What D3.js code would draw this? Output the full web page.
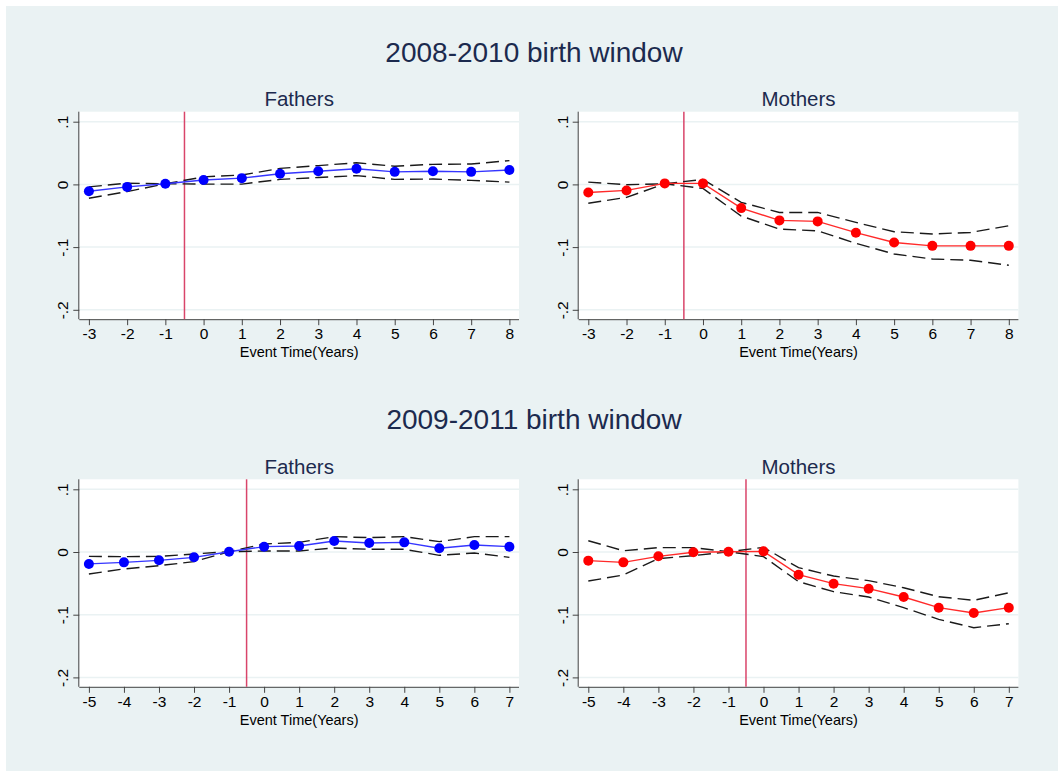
<!DOCTYPE html>
<html>
<head>
<meta charset="utf-8">
<script src="https://cdnjs.cloudflare.com/ajax/libs/d3/7.8.5/d3.min.js"></script>
<style>
	body { margin: 0; background: #ffffff; }
	text { font-family: "Liberation Sans", Arial, Helvetica, sans-serif; }
</style>
</head>
<body>
<div id="EventChart"></div>
<script>
// event time, 2008-2010 window
var yearsA = [-3, -2, -1, 0, 1, 2, 3, 4, 5, 6, 7, 8];
var fathersA    = [-0.011, -0.004, 0.001, 0.007, 0.010, 0.017, 0.021, 0.025, 0.020, 0.021, 0.020, 0.023];
var fathersA_hi = [-0.004, 0.002, 0.001, 0.012, 0.015, 0.0255, 0.030, 0.0345, 0.029, 0.032, 0.0325, 0.038];
var fathersA_lo = [-0.022, -0.0115, 0.001, 0.0005, 0.0005, 0.008, 0.011, 0.014, 0.008, 0.0085, 0.0064, 0.0037];
var mothersA    = [-0.013, -0.0096, 0.0016, 0.0016, -0.0378, -0.0574, -0.059, -0.077, -0.0926, -0.098, -0.098, -0.098];
var mothersA_hi = [0.0037, -0.0005, 0.001, 0.008, -0.0287, -0.0447, -0.0447, -0.0606, -0.0755, -0.079, -0.0766, -0.066];
var mothersA_lo = [-0.030, -0.0207, 0.001, -0.0064, -0.0505, -0.0713, -0.074, -0.094, -0.111, -0.119, -0.121, -0.129];

// event time, 2009-2011 window
var yearsB = [-5, -4, -3, -2, -1, 0, 1, 2, 3, 4, 5, 6, 7];
var fathersB    = [-0.019, -0.0165, -0.0133, -0.0085, 0.0005, 0.0085, 0.0096, 0.0176, 0.0144, 0.0154, 0.0059, 0.0112, 0.0085];
var fathersB_hi = [-0.0069, -0.0074, -0.0069, -0.0032, 0.0005, 0.0128, 0.0154, 0.0245, 0.0229, 0.0245, 0.0165, 0.0245, 0.0245];
var fathersB_lo = [-0.035, -0.027, -0.0218, -0.0154, 0.0005, 0.0016, 0.0016, 0.0064, 0.0043, 0.0043, -0.0053, -0.0016, -0.0085];
var mothersB    = [-0.0138, -0.0165, -0.0069, -0.0005, 0.0005, 0.001, -0.0362, -0.0505, -0.0585, -0.0718, -0.0888, -0.0973, -0.0888];
var mothersB_hi = [0.018, 0.002, 0.0069, 0.0069, 0.0005, 0.0074, -0.025, -0.0383, -0.0457, -0.057, -0.0713, -0.077, -0.065];
var mothersB_lo = [-0.0463, -0.0367, -0.0106, -0.0059, 0.0005, -0.0074, -0.0473, -0.0633, -0.0718, -0.0888, -0.1074, -0.1207, -0.1144];

var yTicks = [0.1, 0, -0.1, -0.2];
var yTickLabels = ['.1', '0', '-.1', '-.2'];
var windowTitles = ['2008-2010 birth window', '2009-2011 birth window'];
var panelTitles = ['Fathers', 'Mothers'];
var xTitle = 'Event Time(Years)';
var eventLine = -0.5;

var width = 1058;
var height = 771;

var svg = d3.select('#EventChart')
	.append('svg')
	.attr('width', width)
	.attr('height', height);

svg.append('rect')
	.attr('x', 6)
	.attr('y', 6)
	.attr('width', width - 6)
	.attr('height', height - 6)
	.attr('fill', '#eaf2f3');

var rowTop = [111.7, 479.3];
var colLeft = [79.3, 578.7];
var plotW = 439.7;
var plotH = 207.5;

windowTitles.forEach(function(t, i)
{
	svg.append('text')
		.attr('x', 534)
		.attr('y', 61.7 + (rowTop[i] - rowTop[0]))
		.attr('text-anchor', 'middle')
		.attr('font-size', '28px')
		.attr('fill', '#1c2a4e')
		.text(t);
});

drawPanel(colLeft[0], rowTop[0], panelTitles[0], yearsA, fathersA, fathersA_lo, fathersA_hi, '#0000ff', '#3535ff');
drawPanel(colLeft[1], rowTop[0], panelTitles[1], yearsA, mothersA, mothersA_lo, mothersA_hi, '#ff0000', '#ff2a2a');
drawPanel(colLeft[0], rowTop[1], panelTitles[0], yearsB, fathersB, fathersB_lo, fathersB_hi, '#0000ff', '#3535ff');
drawPanel(colLeft[1], rowTop[1], panelTitles[1], yearsB, mothersB, mothersB_lo, mothersB_hi, '#ff0000', '#ff2a2a');

function drawPanel(left, top, title, years, est, lo, hi, markColor, lineColor)
{
	var g = svg.append('g')
		.attr('transform', 'translate(' + left + ',' + top + ')');

	var x = d3.scaleLinear()
		.domain(d3.extent(years))
		.range([9.6, plotW - 9.6]);

	var y = d3.scaleLinear()
		.domain([-0.2, 0.1])
		.range([plotH - 9.4, 10]);

	// plot region
	g.append('rect')
		.attr('width', plotW)
		.attr('height', plotH)
		.attr('fill', '#ffffff');

	// grid
	g.selectAll('.grid')
		.data(yTicks)
		.enter()
		.append('line')
		.attr('class', 'grid')
		.attr('x1', 0)
		.attr('x2', plotW)
		.attr('y1', function(d) { return y(d); })
		.attr('y2', function(d) { return y(d); })
		.attr('stroke', '#eaf2f3')
		.attr('stroke-width', 1.5);

	// panel title
	g.append('text')
		.attr('x', plotW / 2)
		.attr('y', -5.7)
		.attr('text-anchor', 'middle')
		.attr('font-size', '20.5px')
		.attr('fill', '#1c2a4e')
		.text(title);

	// axes
	var xAxis = d3.axisBottom(x)
		.tickValues(years)
		.tickSize(6)
		.tickPadding(3)
		.tickFormat(d3.format('d'));

	var xg = g.append('g')
		.attr('transform', 'translate(0,' + plotH + ')')
		.call(xAxis);

	xg.select('.domain')
		.attr('d', 'M0,0.5H' + plotW)
		.attr('stroke', '#444444');
	xg.selectAll('.tick line').attr('stroke', '#444444');
	xg.selectAll('.tick text')
		.attr('font-size', '15.5px')
		.attr('fill', '#000000')
		.text(function(d) { return d < 0 ? '-' + Math.abs(d) : d; });

	var yAxis = d3.axisLeft(y)
		.tickValues(yTicks)
		.tickSize(6)
		.tickFormat(function(d, i) { return yTickLabels[i]; });

	var yg = g.append('g')
		.call(yAxis);

	yg.select('.domain')
		.attr('d', 'M-0.5,0V' + plotH)
		.attr('stroke', '#444444');
	yg.selectAll('.tick line').attr('stroke', '#444444');
	yg.selectAll('.tick text')
		.attr('font-size', '15.5px')
		.attr('fill', '#000000')
		.attr('x', null)
		.attr('dy', null)
		.attr('text-anchor', 'middle')
		.attr('transform', 'translate(-11,0) rotate(-90)');

	g.append('text')
		.attr('x', plotW / 2)
		.attr('y', plotH + 38.3)
		.attr('text-anchor', 'middle')
		.attr('font-size', '14.5px')
		.attr('fill', '#000000')
		.text(xTitle);

	// event marker
	g.append('line')
		.attr('x1', x(eventLine))
		.attr('x2', x(eventLine))
		.attr('y1', 0)
		.attr('y2', plotH)
		.attr('stroke', '#d9456a')
		.attr('stroke-width', 1.5);

	var line = d3.line()
		.x(function(d) { return x(d[0]); })
		.y(function(d) { return y(d[1]); });

	[lo, hi].forEach(function(band)
	{
		g.append('path')
			.datum(years.map(function(t, i) { return [t, band[i]]; }))
			.attr('d', line)
			.attr('fill', 'none')
			.attr('stroke', '#1a1a1a')
			.attr('stroke-width', 1.4)
			.attr('stroke-dasharray', '13,6');
	});

	var pts = years.map(function(t, i) { return [t, est[i]]; });

	g.append('path')
		.datum(pts)
		.attr('d', line)
		.attr('fill', 'none')
		.attr('stroke', lineColor)
		.attr('stroke-width', 1.4);

	g.selectAll('.dot')
		.data(pts)
		.enter()
		.append('circle')
		.attr('class', 'dot')
		.attr('cx', function(d) { return x(d[0]); })
		.attr('cy', function(d) { return y(d[1]); })
		.attr('r', 5)
		.attr('fill', markColor);
}
</script>
</body>
</html>
